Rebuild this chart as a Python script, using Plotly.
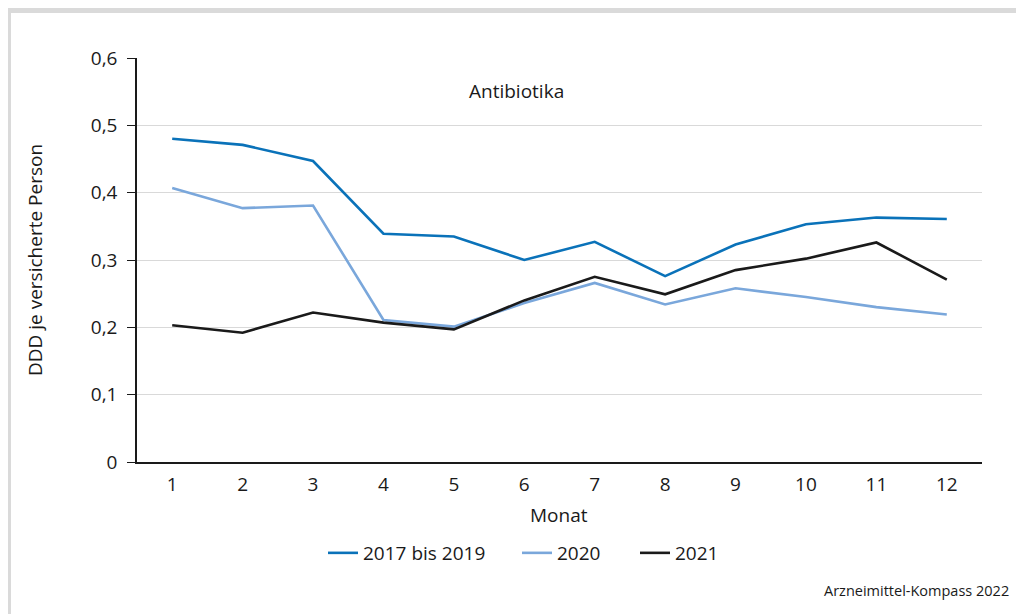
import plotly.graph_objects as go

months = list(range(1, 13))
month_labels = [str(m) for m in months]
s_2017_2019 = [0.480, 0.471, 0.447, 0.339, 0.335, 0.300, 0.327, 0.276, 0.323, 0.353, 0.363, 0.361]
s_2020 = [0.407, 0.377, 0.381, 0.211, 0.201, 0.236, 0.266, 0.234, 0.258, 0.245, 0.230, 0.219]
s_2021 = [0.203, 0.192, 0.222, 0.207, 0.197, 0.240, 0.275, 0.249, 0.285, 0.302, 0.326, 0.271]
series_names = ["2017 bis 2019", "2020", "2021"]
y_tickvals = [0, 0.1, 0.2, 0.3, 0.4, 0.5, 0.6]
y_ticktext = ["0", "0,1", "0,2", "0,3", "0,4", "0,5", "0,6"]

colors = ["#0a72b9", "#7aa7db", "#1a1a1a"]
FONT = "Open Sans"
OFF = 8  # page body margin
W, H = 1024 - OFF, 614 - OFF
PL, PR, PT, PB = 137, 982, 58, 462  # plot area in page pixels
L, R, T, B = PL - OFF, W - (PR - OFF), PT - OFF, H - (PB - OFF)
pw, ph = W - L - R, H - T - B

def px_x(p):
    return (p - OFF - L) / pw

def px_y(p):
    return (H - B - (p - OFF)) / ph

legend_ids = ["legend", "legend2", "legend3"]
legend_text_x = [365, 559, 677]

fig = go.Figure()
for name, vals, c, lid in zip(series_names, [s_2017_2019, s_2020, s_2021], colors, legend_ids):
    fig.add_trace(go.Scatter(x=months, y=vals, mode="lines", name=name, legend=lid,
                             line=dict(color=c, width=2.6)))

def leg(tx):
    return dict(orientation="h", x=px_x(tx - 42), xanchor="left", y=px_y(553), yanchor="middle",
                font=dict(size=19), bgcolor="rgba(0,0,0,0)", borderwidth=0)

fig.update_layout(
    width=W, height=H,
    margin=dict(l=L, r=R, t=T, b=B),
    paper_bgcolor="white", plot_bgcolor="white",
    font=dict(family=FONT, size=18, color="#1a1a1a"),
    showlegend=True,
    legend=leg(legend_text_x[0]),
    legend2=leg(legend_text_x[1]),
    legend3=leg(legend_text_x[2]),
    xaxis=dict(range=[0.5, 12.5], tickvals=months, ticktext=month_labels,
               showgrid=False, showline=True, linecolor="#1a1a1a", linewidth=1.5,
               ticks="", zeroline=False, ticklabelstandoff=4, tickfont=dict(size=19)),
    yaxis=dict(range=[0, 0.6], tickvals=y_tickvals, ticktext=y_ticktext,
               showgrid=True, gridcolor="#d9d9d9", gridwidth=1.2,
               showline=True, linecolor="#1a1a1a", linewidth=1.5,
               ticks="outside", ticklen=8, tickcolor="#1a1a1a", tickwidth=1.3,
               zeroline=False, ticklabelstandoff=6, tickfont=dict(size=19)),
    shapes=[dict(type="rect", xref="paper", yref="paper",
                 x0=px_x(8.5), x1=px_x(1022.5), y0=px_y(700), y1=px_y(10.5),
                 line=dict(color="#dadada", width=5), layer="below")],
    annotations=[
        dict(text="Antibiotika", xref="paper", yref="paper", x=px_x(516), y=px_y(91),
             showarrow=False, xanchor="center", yanchor="middle", font=dict(size=19)),
        dict(text="DDD je versicherte Person", xref="paper", yref="paper",
             x=px_x(35), y=px_y(260), textangle=-90, showarrow=False,
             xanchor="center", yanchor="middle", font=dict(size=19)),
        dict(text="Monat", xref="paper", yref="paper", x=px_x(559), y=px_y(515),
             showarrow=False, xanchor="center", yanchor="middle", font=dict(size=19)),
        dict(text="Arzneimittel-Kompass 2022", xref="paper", yref="paper",
             x=px_x(1011), y=px_y(590), showarrow=False, xanchor="right",
             yanchor="middle", font=dict(size=14.5)),
    ],
)

fig.write_html("out.html")
